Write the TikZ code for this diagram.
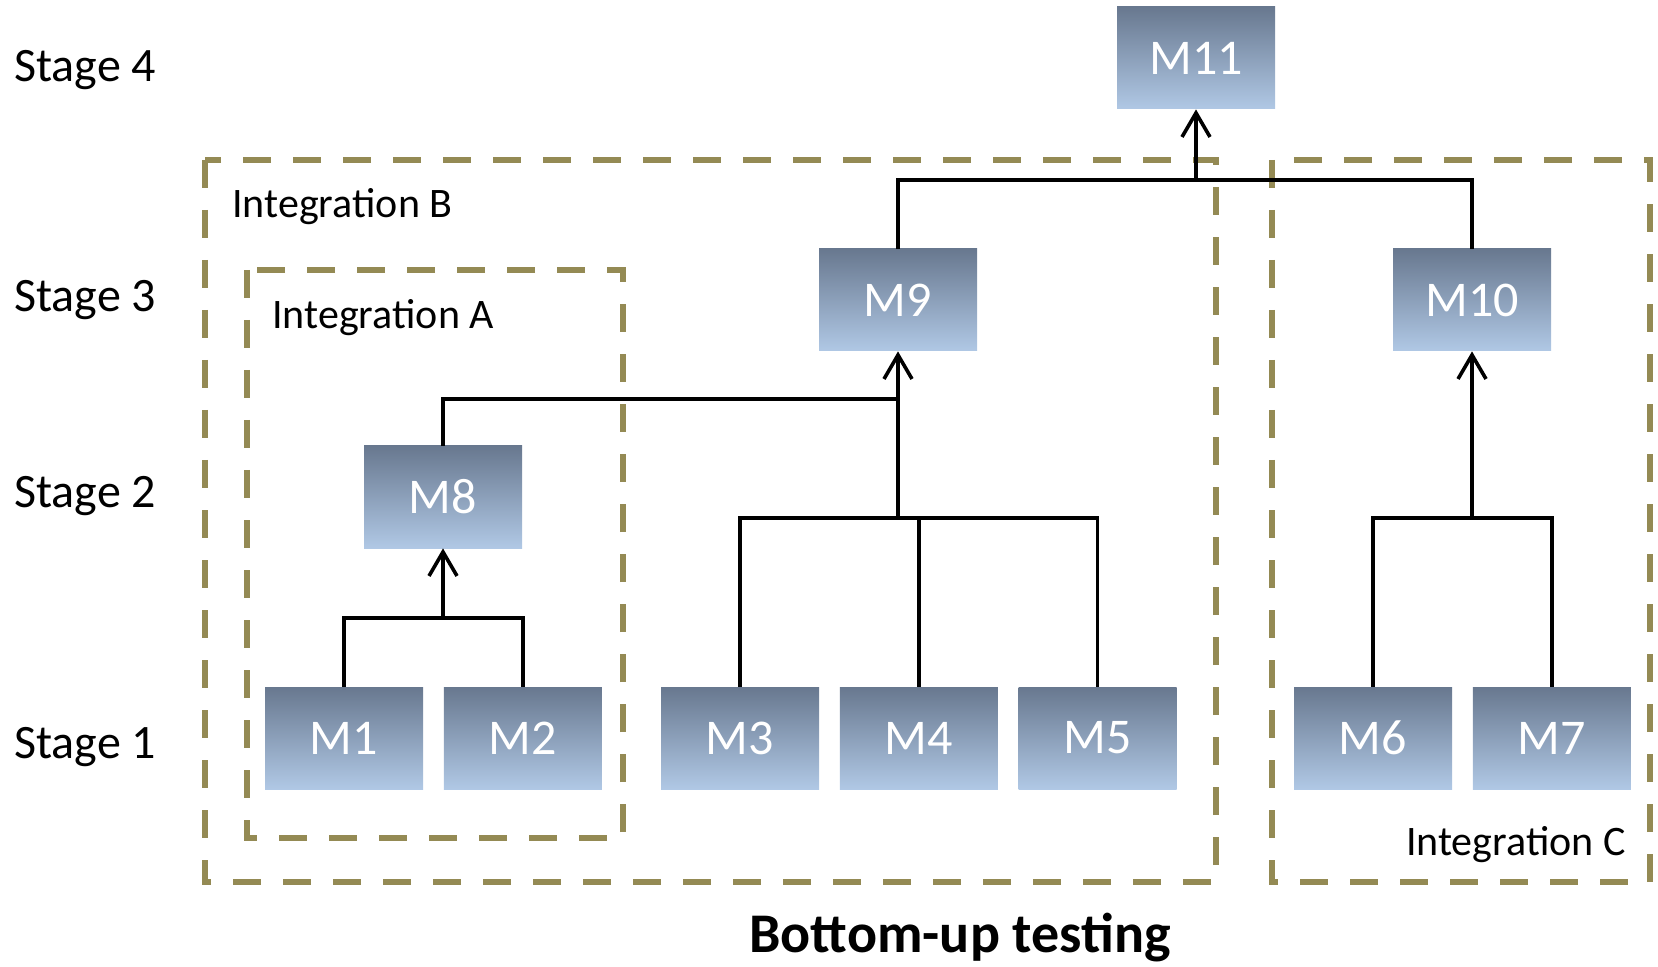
\documentclass[tikz,border=0pt]{standalone}
\usepackage{fontspec}
\setmainfont{Carlito}
\usetikzlibrary{arrows.meta, positioning, calc}

\definecolor{boxtop}{RGB}{104,120,143}
\definecolor{boxbottom}{RGB}{176,200,229}
\definecolor{olive}{RGB}{148,138,84}

\begin{document}
\begin{tikzpicture}[
x=0.5pt, y=-0.5pt,
>={Straight Barb[length=12pt,width=14pt]},
every node/.style={font=\fontsize{21}{26}\selectfont},
module/.style={
rectangle,
top color=boxtop,
bottom color=boxbottom,
draw=none,
text=white,
font=\fontsize{25}{30}\selectfont,
minimum width=79pt,
minimum height=51pt,
inner sep=0pt
},
group/.style={
draw=olive,
line width=3pt,
dash pattern=on 14pt off 11pt
},
line/.style={draw, line width=1.8pt},
stage/.style={anchor=west, inner sep=0pt, font=\fontsize{24}{29}\selectfont}
]
\useasboundingbox (0,0) rectangle (1658,967);

% Integration groups
\draw[group] (205,160) rectangle (1216,882);
\draw[group] (247,270) rectangle (623,838);
\draw[group] (1272,160) rectangle (1650,882);

\node[anchor=west, inner sep=0pt] (labB) at (232,207) {Integration B};
\node[anchor=west, inner sep=0pt] (labA) at (272,318) {Integration A};
\node[anchor=east, inner sep=0pt] (labC) at (1626,845) {Integration C};

% Stages
\node[stage] (s4) at (14,70) {Stage 4};
\node[stage] (s3) at (14,300) {Stage 3};
\node[stage] (s2) at (14,496) {Stage 2};
\node[stage] (s1) at (14,747) {Stage 1};

% Nodes
\node[module] (m1) at (344,738) {M1};
\node[module, right=10pt of m1] (m2) {M2};
\node[module] (m3) at (740,738) {M3};
\node[module, right=10pt of m3] (m4) {M4};
\node[module, right=10pt of m4] (m5) {M5};
\node[module] (m6) at (1373,738) {M6};
\node[module, right=10pt of m6] (m7) {M7};

\node[module] (m8) at (443,497) {M8};
\node[module] (m9) at (898,300) {M9};
\node[module] (m10) at (1472,300) {M10};
\node[module] (m11) at (1196,58) {M11};

\node[font=\fontsize{28}{34}\selectfont\bfseries] (title) at (960,938) {Bottom-up testing};

% Junctions
\coordinate (j8) at (443,618);
\coordinate (j9) at (898,518);
\coordinate (j9b) at (898,399);
\coordinate (j10) at (1472,518);
\coordinate (j11) at (1196,180);

% Connections
\draw[line] (m1.north) |- (j8) -| (m2.north);
\draw[line, ->] (j8) -- (m8);

\draw[line] (m3.north) |- (j9) -| (m5.north);
\draw[line] (m4.north) -- (m4.north |- j9);
\draw[line] (m8.north) |- (j9b);
\draw[line, ->] (j9) -- (m9);

\draw[line] (m6.north) |- (j10) -| (m7.north);
\draw[line, ->] (j10) -- (m10);

\draw[line] (m9.north) |- (j11) -| (m10.north);
\draw[line, ->] (j11) -- (m11);

\end{tikzpicture}
\end{document}
